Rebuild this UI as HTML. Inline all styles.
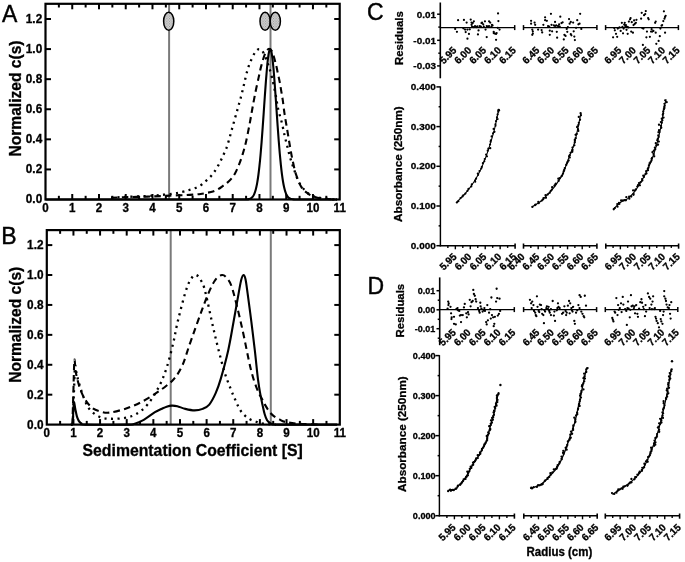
<!DOCTYPE html>
<html><head><meta charset="utf-8"><style>
html,body{margin:0;padding:0;background:#fff;width:685px;height:562px;overflow:hidden}
svg{display:block;will-change:transform}
text{font-family:"Liberation Sans",sans-serif}
</style></head><body>
<svg width="685" height="562" viewBox="0 0 685 562" font-family="Liberation Sans, sans-serif"><defs><pattern id="dots" width="2.6" height="2.6" patternUnits="userSpaceOnUse"><rect width="2.6" height="2.6" fill="#d6d6d6"/><rect x="0" y="0" width="1.0" height="1.0" fill="#8e8e8e"/><rect x="1.3" y="1.3" width="1.0" height="1.0" fill="#8e8e8e"/></pattern></defs>
<rect width="685" height="562" fill="#fff"/>
<line x1="169.1" y1="3.8" x2="169.1" y2="199.5" stroke="#7a7a7a" stroke-width="2"/>
<line x1="270.5" y1="3.8" x2="270.5" y2="199.5" stroke="#7a7a7a" stroke-width="2"/>
<path d="M45.5 199.5C76.7 199.5 200.62 199.5 232.72 199.5C264.81 199.5 237 199.5 238.07 199.5C239.14 199.5 238.78 199.5 239.14 199.5C239.49 199.5 239.85 199.5 240.21 199.5C240.56 199.5 240.92 199.5 241.28 199.5C241.63 199.5 241.99 199.5 242.35 199.49C242.7 199.49 243.06 199.49 243.42 199.49C243.77 199.48 244.13 199.48 244.49 199.47C244.84 199.47 245.2 199.46 245.56 199.44C245.91 199.43 246.27 199.42 246.63 199.39C246.98 199.37 247.34 199.34 247.7 199.29C248.05 199.25 248.41 199.2 248.77 199.12C249.12 199.04 249.48 198.95 249.84 198.82C250.19 198.68 250.55 198.53 250.91 198.31C251.26 198.09 251.62 197.85 251.97 197.5C252.33 197.15 252.69 196.76 253.04 196.23C253.4 195.7 253.76 195.1 254.11 194.31C254.47 193.52 254.83 192.63 255.18 191.5C255.54 190.37 255.9 189.1 256.25 187.53C256.61 185.97 256.97 184.21 257.32 182.12C257.68 180.03 258.04 177.69 258.39 175C258.75 172.31 259.11 169.32 259.46 165.98C259.82 162.64 260.18 158.96 260.53 154.97C260.89 150.99 261.25 146.64 261.6 142.09C261.96 137.53 262.32 132.63 262.67 127.64C263.03 122.66 263.39 117.38 263.74 112.2C264.1 107.01 264.46 101.63 264.81 96.54C265.17 91.44 265.53 86.3 265.88 81.63C266.24 76.95 266.6 72.41 266.95 68.51C267.31 64.6 267.67 61.02 268.02 58.19C268.38 55.36 268.74 53.05 269.09 51.53C269.45 50.01 269.81 49.16 270.16 49.09C270.52 49.02 270.88 49.71 271.23 51.09C271.59 52.46 271.94 54.64 272.3 57.35C272.66 60.06 273.01 63.52 273.37 67.33C273.73 71.14 274.08 75.61 274.44 80.22C274.8 84.83 275.15 89.93 275.51 95C275.87 100.06 276.22 105.44 276.58 110.63C276.94 115.82 277.29 121.12 277.65 126.13C278.01 131.15 278.36 136.1 278.72 140.71C279.08 145.31 279.43 149.72 279.79 153.77C280.15 157.81 280.5 161.56 280.86 164.97C281.22 168.37 281.57 171.43 281.93 174.19C282.29 176.94 282.64 179.34 283 181.49C283.36 183.64 283.71 185.45 284.07 187.06C284.43 188.67 284.78 189.99 285.14 191.16C285.5 192.33 285.85 193.25 286.21 194.07C286.57 194.89 286.92 195.52 287.28 196.07C287.64 196.63 287.99 197.03 288.35 197.4C288.71 197.76 289.06 198.02 289.42 198.25C289.78 198.48 290.13 198.64 290.49 198.78C290.84 198.92 291.2 199.01 291.56 199.09C291.91 199.18 292.27 199.23 292.63 199.28C292.98 199.33 293.34 199.36 293.7 199.38C294.05 199.41 294.41 199.43 294.77 199.44C295.12 199.45 295.48 199.46 295.84 199.47C296.19 199.48 296.55 199.48 296.91 199.49C297.26 199.49 297.62 199.49 297.98 199.49C298.33 199.5 298.69 199.5 299.05 199.5C299.4 199.5 299.76 199.5 300.12 199.5C300.47 199.5 299.94 199.5 301.19 199.5C302.43 199.5 301.63 199.5 307.61 199.5C313.58 199.5 332.12 199.5 337.03 199.5" fill="none" stroke="#000" stroke-width="2.1" stroke-linecap="butt" stroke-linejoin="round"/>
<path d="M111.03 197.69C113.92 197.59 122.35 197.27 128.41 197.09C134.47 196.92 141.69 196.82 147.4 196.64C153.11 196.47 158.23 196.24 162.65 196.04C167.06 195.84 170.09 195.59 173.88 195.44C177.67 195.29 181.95 195.29 185.38 195.14C188.81 194.99 191.93 194.74 194.47 194.54C197.01 194.34 198.57 194.21 200.62 193.93C202.67 193.66 204.72 193.28 206.78 192.88C208.83 192.48 211.05 192.13 212.93 191.53C214.8 190.93 216.31 190.22 218.01 189.27C219.7 188.32 221.53 186.92 223.09 185.81C224.65 184.71 225.9 183.96 227.37 182.65C228.84 181.35 230.58 179.65 231.92 177.99C233.25 176.34 234.14 175.11 235.39 172.73C236.64 170.34 238.2 166.76 239.4 163.7C240.61 160.64 241.54 157.88 242.61 154.38C243.68 150.87 244.71 147.43 245.82 142.64C246.94 137.85 248.28 130.96 249.3 125.65C250.33 120.33 251.04 115.89 251.97 110.75C252.91 105.61 253.8 100.38 254.92 94.81C256.03 89.24 257.59 82.23 258.66 77.36C259.73 72.5 260.31 69.46 261.34 65.63C262.36 61.79 263.65 57.11 264.81 54.35C265.97 51.59 267.18 49.71 268.29 49.08C269.4 48.46 270.61 49.41 271.5 50.59C272.39 51.77 272.88 53.77 273.64 56.15C274.4 58.53 275.33 61.97 276.05 64.88C276.76 67.79 277.29 70.69 277.92 73.6C278.54 76.51 279.26 79.52 279.79 82.33C280.33 85.13 280.64 87.51 281.13 90.45C281.62 93.38 282.15 95.96 282.73 99.92C283.31 103.89 283.85 109.17 284.6 114.21C285.36 119.25 286.39 124.82 287.28 130.16C288.17 135.5 289.06 141.19 289.95 146.25C290.84 151.32 291.6 155.8 292.63 160.54C293.65 165.28 294.63 170.24 296.1 174.68C297.58 179.12 299.54 184.06 301.45 187.17C303.37 190.27 305.38 191.7 307.61 193.33C309.83 194.96 312.15 196.07 314.83 196.94C317.5 197.82 319.95 198.17 323.65 198.6C327.35 199.02 334.8 199.35 337.03 199.5" fill="none" stroke="#000" stroke-width="2.1" stroke-linecap="butt" stroke-linejoin="round" stroke-dasharray="6.5 4.3"/>
<path d="M111.03 197.69C113.48 197.57 120.16 197.19 125.74 196.94C131.31 196.69 138.66 196.52 144.46 196.19C150.25 195.86 155.6 195.44 160.51 194.99C165.41 194.54 170.27 193.98 173.88 193.48C177.49 192.98 179.76 192.51 182.17 191.98C184.58 191.45 186.27 190.93 188.32 190.32C190.37 189.72 192.42 189.2 194.47 188.37C196.52 187.54 198.75 186.56 200.62 185.36C202.5 184.16 204.06 182.6 205.71 181.15C207.35 179.7 209.05 178.24 210.52 176.64C211.99 175.03 213.28 173.33 214.53 171.52C215.78 169.72 216.89 167.79 218.01 165.81C219.12 163.83 220.19 161.72 221.22 159.64C222.24 157.56 223.13 155.7 224.16 153.32C225.18 150.94 225.99 149.69 227.37 145.35C228.75 141.01 230.76 133.32 232.45 127.3C234.14 121.28 236.06 114.51 237.53 109.25C239 103.99 240.16 100 241.28 95.71C242.39 91.43 243.24 87.62 244.22 83.53C245.2 79.44 246.14 74.8 247.16 71.19C248.19 67.58 249.08 64.95 250.37 61.87C251.66 58.79 253.45 54.82 254.92 52.69C256.39 50.56 257.77 49.06 259.2 49.08C260.62 49.11 262 50.34 263.48 52.84C264.95 55.35 266.6 59.99 268.02 64.12C269.45 68.26 270.79 72.65 272.03 77.66C273.28 82.68 274.49 88.94 275.51 94.21C276.54 99.47 277.12 104.44 278.19 109.25C279.26 114.06 280.86 118.7 281.93 123.09C283 127.48 283.71 131.71 284.6 135.57C285.5 139.43 286.39 142.69 287.28 146.25C288.17 149.81 288.93 153.37 289.95 156.93C290.98 160.49 291.96 163.45 293.43 167.61C294.9 171.77 296.68 177.92 298.78 181.9C300.87 185.89 303.64 189.17 306 191.53C308.36 193.88 310.59 194.99 312.95 196.04C315.32 197.09 317.5 197.34 320.18 197.85C322.85 198.35 326.19 198.77 329 199.05C331.81 199.32 335.69 199.42 337.03 199.5" fill="none" stroke="#000" stroke-width="2.3" stroke-linecap="butt" stroke-linejoin="round" stroke-dasharray="2.1 4.4"/>
<ellipse cx="168.7" cy="21.3" rx="5.1" ry="9.0" fill="url(#dots)" stroke="#000" stroke-width="1.5"/>
<ellipse cx="265.1" cy="21.2" rx="5.1" ry="9.0" fill="url(#dots)" stroke="#000" stroke-width="1.5"/>
<ellipse cx="275.3" cy="21.2" rx="5.1" ry="9.0" fill="url(#dots)" stroke="#000" stroke-width="1.5"/>
<rect x="45.5" y="3.8" width="294.2" height="195.7" fill="none" stroke="#000" stroke-width="2.2"/>
<line x1="58.87" y1="199.5" x2="58.87" y2="195.8" stroke="#000" stroke-width="2"/>
<line x1="58.87" y1="3.8" x2="58.87" y2="7.5" stroke="#000" stroke-width="2"/>
<line x1="72.25" y1="199.5" x2="72.25" y2="194" stroke="#000" stroke-width="2"/>
<line x1="72.25" y1="3.8" x2="72.25" y2="9.3" stroke="#000" stroke-width="2"/>
<line x1="85.62" y1="199.5" x2="85.62" y2="195.8" stroke="#000" stroke-width="2"/>
<line x1="85.62" y1="3.8" x2="85.62" y2="7.5" stroke="#000" stroke-width="2"/>
<line x1="98.99" y1="199.5" x2="98.99" y2="194" stroke="#000" stroke-width="2"/>
<line x1="98.99" y1="3.8" x2="98.99" y2="9.3" stroke="#000" stroke-width="2"/>
<line x1="112.36" y1="199.5" x2="112.36" y2="195.8" stroke="#000" stroke-width="2"/>
<line x1="112.36" y1="3.8" x2="112.36" y2="7.5" stroke="#000" stroke-width="2"/>
<line x1="125.74" y1="199.5" x2="125.74" y2="194" stroke="#000" stroke-width="2"/>
<line x1="125.74" y1="3.8" x2="125.74" y2="9.3" stroke="#000" stroke-width="2"/>
<line x1="139.11" y1="199.5" x2="139.11" y2="195.8" stroke="#000" stroke-width="2"/>
<line x1="139.11" y1="3.8" x2="139.11" y2="7.5" stroke="#000" stroke-width="2"/>
<line x1="152.48" y1="199.5" x2="152.48" y2="194" stroke="#000" stroke-width="2"/>
<line x1="152.48" y1="3.8" x2="152.48" y2="9.3" stroke="#000" stroke-width="2"/>
<line x1="165.85" y1="199.5" x2="165.85" y2="195.8" stroke="#000" stroke-width="2"/>
<line x1="165.85" y1="3.8" x2="165.85" y2="7.5" stroke="#000" stroke-width="2"/>
<line x1="179.23" y1="199.5" x2="179.23" y2="194" stroke="#000" stroke-width="2"/>
<line x1="179.23" y1="3.8" x2="179.23" y2="9.3" stroke="#000" stroke-width="2"/>
<line x1="192.6" y1="199.5" x2="192.6" y2="195.8" stroke="#000" stroke-width="2"/>
<line x1="192.6" y1="3.8" x2="192.6" y2="7.5" stroke="#000" stroke-width="2"/>
<line x1="205.97" y1="199.5" x2="205.97" y2="194" stroke="#000" stroke-width="2"/>
<line x1="205.97" y1="3.8" x2="205.97" y2="9.3" stroke="#000" stroke-width="2"/>
<line x1="219.35" y1="199.5" x2="219.35" y2="195.8" stroke="#000" stroke-width="2"/>
<line x1="219.35" y1="3.8" x2="219.35" y2="7.5" stroke="#000" stroke-width="2"/>
<line x1="232.72" y1="199.5" x2="232.72" y2="194" stroke="#000" stroke-width="2"/>
<line x1="232.72" y1="3.8" x2="232.72" y2="9.3" stroke="#000" stroke-width="2"/>
<line x1="246.09" y1="199.5" x2="246.09" y2="195.8" stroke="#000" stroke-width="2"/>
<line x1="246.09" y1="3.8" x2="246.09" y2="7.5" stroke="#000" stroke-width="2"/>
<line x1="259.46" y1="199.5" x2="259.46" y2="194" stroke="#000" stroke-width="2"/>
<line x1="259.46" y1="3.8" x2="259.46" y2="9.3" stroke="#000" stroke-width="2"/>
<line x1="272.84" y1="199.5" x2="272.84" y2="195.8" stroke="#000" stroke-width="2"/>
<line x1="272.84" y1="3.8" x2="272.84" y2="7.5" stroke="#000" stroke-width="2"/>
<line x1="286.21" y1="199.5" x2="286.21" y2="194" stroke="#000" stroke-width="2"/>
<line x1="286.21" y1="3.8" x2="286.21" y2="9.3" stroke="#000" stroke-width="2"/>
<line x1="299.58" y1="199.5" x2="299.58" y2="195.8" stroke="#000" stroke-width="2"/>
<line x1="299.58" y1="3.8" x2="299.58" y2="7.5" stroke="#000" stroke-width="2"/>
<line x1="312.95" y1="199.5" x2="312.95" y2="194" stroke="#000" stroke-width="2"/>
<line x1="312.95" y1="3.8" x2="312.95" y2="9.3" stroke="#000" stroke-width="2"/>
<line x1="326.33" y1="199.5" x2="326.33" y2="195.8" stroke="#000" stroke-width="2"/>
<line x1="326.33" y1="3.8" x2="326.33" y2="7.5" stroke="#000" stroke-width="2"/>
<text font-size="11.6" font-weight="bold" text-anchor="middle" transform="translate(45.5 212.2) scale(1 1.04)" stroke="#000" stroke-width="0.3">0</text>
<text font-size="11.6" font-weight="bold" text-anchor="middle" transform="translate(72.25 212.2) scale(1 1.04)" stroke="#000" stroke-width="0.3">1</text>
<text font-size="11.6" font-weight="bold" text-anchor="middle" transform="translate(98.99 212.2) scale(1 1.04)" stroke="#000" stroke-width="0.3">2</text>
<text font-size="11.6" font-weight="bold" text-anchor="middle" transform="translate(125.74 212.2) scale(1 1.04)" stroke="#000" stroke-width="0.3">3</text>
<text font-size="11.6" font-weight="bold" text-anchor="middle" transform="translate(152.48 212.2) scale(1 1.04)" stroke="#000" stroke-width="0.3">4</text>
<text font-size="11.6" font-weight="bold" text-anchor="middle" transform="translate(179.23 212.2) scale(1 1.04)" stroke="#000" stroke-width="0.3">5</text>
<text font-size="11.6" font-weight="bold" text-anchor="middle" transform="translate(205.97 212.2) scale(1 1.04)" stroke="#000" stroke-width="0.3">6</text>
<text font-size="11.6" font-weight="bold" text-anchor="middle" transform="translate(232.72 212.2) scale(1 1.04)" stroke="#000" stroke-width="0.3">7</text>
<text font-size="11.6" font-weight="bold" text-anchor="middle" transform="translate(259.46 212.2) scale(1 1.04)" stroke="#000" stroke-width="0.3">8</text>
<text font-size="11.6" font-weight="bold" text-anchor="middle" transform="translate(286.21 212.2) scale(1 1.04)" stroke="#000" stroke-width="0.3">9</text>
<text font-size="11.6" font-weight="bold" text-anchor="middle" transform="translate(312.95 212.2) scale(1 1.04)" stroke="#000" stroke-width="0.3">10</text>
<text font-size="11.6" font-weight="bold" text-anchor="middle" transform="translate(339.7 212.2) scale(1 1.04)" stroke="#000" stroke-width="0.3">11</text>
<text font-size="11.8" font-weight="bold" text-anchor="end" transform="translate(42.2 203.4) scale(1 1.04)" stroke="#000" stroke-width="0.3">0.0</text>
<line x1="45.5" y1="169.42" x2="51" y2="169.42" stroke="#000" stroke-width="2"/>
<line x1="339.7" y1="169.42" x2="334.2" y2="169.42" stroke="#000" stroke-width="2"/>
<text font-size="11.8" font-weight="bold" text-anchor="end" transform="translate(42.2 173.32) scale(1 1.04)" stroke="#000" stroke-width="0.3">0.2</text>
<line x1="45.5" y1="139.33" x2="51" y2="139.33" stroke="#000" stroke-width="2"/>
<line x1="339.7" y1="139.33" x2="334.2" y2="139.33" stroke="#000" stroke-width="2"/>
<text font-size="11.8" font-weight="bold" text-anchor="end" transform="translate(42.2 143.23) scale(1 1.04)" stroke="#000" stroke-width="0.3">0.4</text>
<line x1="45.5" y1="109.25" x2="51" y2="109.25" stroke="#000" stroke-width="2"/>
<line x1="339.7" y1="109.25" x2="334.2" y2="109.25" stroke="#000" stroke-width="2"/>
<text font-size="11.8" font-weight="bold" text-anchor="end" transform="translate(42.2 113.15) scale(1 1.04)" stroke="#000" stroke-width="0.3">0.6</text>
<line x1="45.5" y1="79.17" x2="51" y2="79.17" stroke="#000" stroke-width="2"/>
<line x1="339.7" y1="79.17" x2="334.2" y2="79.17" stroke="#000" stroke-width="2"/>
<text font-size="11.8" font-weight="bold" text-anchor="end" transform="translate(42.2 83.07) scale(1 1.04)" stroke="#000" stroke-width="0.3">0.8</text>
<line x1="45.5" y1="49.08" x2="51" y2="49.08" stroke="#000" stroke-width="2"/>
<line x1="339.7" y1="49.08" x2="334.2" y2="49.08" stroke="#000" stroke-width="2"/>
<text font-size="11.8" font-weight="bold" text-anchor="end" transform="translate(42.2 52.98) scale(1 1.04)" stroke="#000" stroke-width="0.3">1.0</text>
<line x1="45.5" y1="19" x2="51" y2="19" stroke="#000" stroke-width="2"/>
<line x1="339.7" y1="19" x2="334.2" y2="19" stroke="#000" stroke-width="2"/>
<text font-size="11.8" font-weight="bold" text-anchor="end" transform="translate(42.2 22.9) scale(1 1.04)" stroke="#000" stroke-width="0.3">1.2</text>
<text font-size="15.6" font-weight="bold" text-anchor="middle" transform="translate(21 98.5) rotate(-90) scale(1 1.04)" stroke="#000" stroke-width="0.3">Normalized c(s)</text>
<text font-size="23" font-weight="normal" text-anchor="start" transform="translate(2 21.8) scale(1 1.04)" stroke="#000" stroke-width="0.4">A</text>
<line x1="170.7" y1="230.1" x2="170.7" y2="424.6" stroke="#7a7a7a" stroke-width="2"/>
<line x1="270.8" y1="230.1" x2="270.8" y2="424.6" stroke="#7a7a7a" stroke-width="2"/>
<path d="M70.77 424.6C71.08 424.48 72.22 426.1 72.64 423.85C73.06 421.61 73.08 414.75 73.3 411.14C73.53 407.52 73.64 402.54 73.97 402.16C74.3 401.79 74.81 406.53 75.3 408.89C75.79 411.26 76.32 414.38 76.9 416.37C77.48 418.37 78.01 419.69 78.76 420.86C79.52 422.03 80.32 422.78 81.43 423.4C82.54 424.03 77.88 424.4 85.42 424.6C92.97 424.8 118.5 424.75 126.71 424.6C134.92 424.45 131.86 424.5 134.7 423.7C137.54 422.9 140.38 421.73 143.76 419.81C147.13 417.89 152.01 413.98 154.94 412.18C157.87 410.39 159.38 409.97 161.34 409.04C163.29 408.12 164.89 407.22 166.66 406.65C168.44 406.08 170.22 405.68 171.99 405.6C173.77 405.53 175.1 405.65 177.32 406.2C179.54 406.75 182.42 408.2 185.31 408.89C188.19 409.59 191.75 410.39 194.63 410.39C197.52 410.39 200.18 409.87 202.62 408.89C205.06 407.92 207.11 407.17 209.28 404.56C211.46 401.94 213.77 397.48 215.67 393.19C217.58 388.9 218.65 385.96 220.74 378.83C222.82 371.7 226.06 359.88 228.19 350.41C230.32 340.93 231.79 331.46 233.52 321.99C235.25 312.51 237.29 300.6 238.58 293.56C239.87 286.53 240.42 282.89 241.25 279.8C242.07 276.71 242.8 275.12 243.51 275.02C244.22 274.92 244.82 276.11 245.51 279.2C246.2 282.3 246.66 286.43 247.64 293.56C248.61 300.7 250.17 312.51 251.37 321.99C252.57 331.46 253.72 340.78 254.83 350.41C255.94 360.03 257.09 372.35 258.03 379.73C258.96 387.1 259.67 390.45 260.42 394.68C261.18 398.92 261.84 401.89 262.55 405.15C263.26 408.42 263.93 411.76 264.69 414.28C265.44 416.8 266.24 418.84 267.08 420.26C267.93 421.68 268.73 422.16 269.75 422.81C270.77 423.45 271.74 423.85 273.21 424.15C274.67 424.45 267.88 424.53 278.54 424.6C289.19 424.67 327.37 424.6 337.14 424.6" fill="none" stroke="#000" stroke-width="2.1" stroke-linecap="butt" stroke-linejoin="round"/>
<path d="M72.37 424.6C72.53 419.61 72.97 405.4 73.3 394.68C73.64 383.96 73.99 364.27 74.37 360.28C74.75 356.29 75.06 367.51 75.57 370.75C76.08 373.99 76.54 376.36 77.43 379.73C78.32 383.09 79.56 387.58 80.89 390.94C82.23 394.31 83.56 397.1 85.42 399.92C87.29 402.74 89.64 405.93 92.08 407.85C94.52 409.77 97.19 410.64 100.07 411.44C102.96 412.23 105.27 413.06 109.4 412.63C113.52 412.21 119.74 410.54 124.84 408.89C129.95 407.25 135.01 405.25 140.03 402.76C145.04 400.27 150.55 396.78 154.94 393.94C159.34 391.09 163.11 388.33 166.4 385.71C169.68 383.09 171.95 381.72 174.65 378.23C177.36 374.74 180.03 370.75 182.65 364.77C185.26 358.78 186.55 353.05 190.37 342.33C194.19 331.61 201.51 310.67 205.55 300.45C209.59 290.22 211.86 285.24 214.61 281C217.36 276.76 219.85 275.27 222.07 275.02C224.29 274.77 226.15 277.01 227.93 279.5C229.7 282 230.41 282.12 232.72 289.98C235.03 297.83 238.76 313.41 241.78 326.62C244.8 339.84 248.26 358.78 250.83 369.25C253.41 379.73 255.36 384.49 257.23 389.45C259.09 394.41 260.69 396.4 262.02 399.02C263.35 401.64 264.02 403.08 265.22 405.15C266.42 407.22 267.88 409.69 269.21 411.44C270.55 413.18 271.52 414.3 273.21 415.62C274.9 416.95 277.34 418.32 279.34 419.36C281.33 420.41 282 421.18 285.2 421.91C288.39 422.63 292.96 423.25 298.51 423.7C304.06 424.15 315.16 424.45 318.49 424.6" fill="none" stroke="#000" stroke-width="2.1" stroke-linecap="butt" stroke-linejoin="round" stroke-dasharray="6.5 4.3"/>
<path d="M72.64 424.6C72.84 419.61 73.44 404.41 73.84 394.68C74.24 384.96 74.57 369.75 75.03 366.26C75.5 362.77 75.92 370.75 76.63 373.74C77.34 376.73 77.92 379.73 79.3 384.21C80.67 388.7 83.03 396.33 84.89 400.67C86.75 405 87.95 407.5 90.48 410.24C93.01 412.98 96.57 415.7 100.07 417.12C103.58 418.54 107.4 418.64 111.53 418.77C115.66 418.89 120.76 418.64 124.84 417.87C128.93 417.1 132.26 416.35 136.03 414.13C139.81 411.91 143.71 409.04 147.49 404.56C151.26 400.07 155.52 393.21 158.67 387.2C161.82 381.2 164 375.74 166.4 368.51C168.79 361.28 171.1 351.93 173.06 343.82C175.01 335.72 175.76 329.37 178.12 319.89C180.47 310.42 184.38 294.46 187.17 286.98C189.97 279.5 192.55 276.01 194.9 275.02C197.25 274.02 199.52 278.01 201.29 281C203.07 283.99 203.38 284.37 205.55 292.97C207.73 301.57 211.32 319.89 214.34 332.61C217.36 345.32 220.96 359.91 223.67 369.25C226.37 378.6 228.59 383.46 230.59 388.7C232.59 393.94 234.1 397.18 235.65 400.67C237.21 404.16 238.45 407.22 239.91 409.64C241.38 412.06 242.71 413.53 244.44 415.18C246.17 416.82 248.35 418.42 250.3 419.51C252.26 420.61 254.47 421.16 256.16 421.76C257.85 422.36 258.47 422.71 260.42 423.1C262.38 423.5 265.31 423.9 267.88 424.15C270.46 424.4 274.54 424.53 275.87 424.6" fill="none" stroke="#000" stroke-width="2.3" stroke-linecap="butt" stroke-linejoin="round" stroke-dasharray="2.1 4.4"/>
<rect x="46.8" y="230.1" width="293" height="194.5" fill="none" stroke="#000" stroke-width="2.2"/>
<line x1="60.12" y1="424.6" x2="60.12" y2="420.9" stroke="#000" stroke-width="2"/>
<line x1="60.12" y1="230.1" x2="60.12" y2="233.8" stroke="#000" stroke-width="2"/>
<line x1="73.44" y1="424.6" x2="73.44" y2="419.1" stroke="#000" stroke-width="2"/>
<line x1="73.44" y1="230.1" x2="73.44" y2="235.6" stroke="#000" stroke-width="2"/>
<line x1="86.75" y1="424.6" x2="86.75" y2="420.9" stroke="#000" stroke-width="2"/>
<line x1="86.75" y1="230.1" x2="86.75" y2="233.8" stroke="#000" stroke-width="2"/>
<line x1="100.07" y1="424.6" x2="100.07" y2="419.1" stroke="#000" stroke-width="2"/>
<line x1="100.07" y1="230.1" x2="100.07" y2="235.6" stroke="#000" stroke-width="2"/>
<line x1="113.39" y1="424.6" x2="113.39" y2="420.9" stroke="#000" stroke-width="2"/>
<line x1="113.39" y1="230.1" x2="113.39" y2="233.8" stroke="#000" stroke-width="2"/>
<line x1="126.71" y1="424.6" x2="126.71" y2="419.1" stroke="#000" stroke-width="2"/>
<line x1="126.71" y1="230.1" x2="126.71" y2="235.6" stroke="#000" stroke-width="2"/>
<line x1="140.03" y1="424.6" x2="140.03" y2="420.9" stroke="#000" stroke-width="2"/>
<line x1="140.03" y1="230.1" x2="140.03" y2="233.8" stroke="#000" stroke-width="2"/>
<line x1="153.35" y1="424.6" x2="153.35" y2="419.1" stroke="#000" stroke-width="2"/>
<line x1="153.35" y1="230.1" x2="153.35" y2="235.6" stroke="#000" stroke-width="2"/>
<line x1="166.66" y1="424.6" x2="166.66" y2="420.9" stroke="#000" stroke-width="2"/>
<line x1="166.66" y1="230.1" x2="166.66" y2="233.8" stroke="#000" stroke-width="2"/>
<line x1="179.98" y1="424.6" x2="179.98" y2="419.1" stroke="#000" stroke-width="2"/>
<line x1="179.98" y1="230.1" x2="179.98" y2="235.6" stroke="#000" stroke-width="2"/>
<line x1="193.3" y1="424.6" x2="193.3" y2="420.9" stroke="#000" stroke-width="2"/>
<line x1="193.3" y1="230.1" x2="193.3" y2="233.8" stroke="#000" stroke-width="2"/>
<line x1="206.62" y1="424.6" x2="206.62" y2="419.1" stroke="#000" stroke-width="2"/>
<line x1="206.62" y1="230.1" x2="206.62" y2="235.6" stroke="#000" stroke-width="2"/>
<line x1="219.94" y1="424.6" x2="219.94" y2="420.9" stroke="#000" stroke-width="2"/>
<line x1="219.94" y1="230.1" x2="219.94" y2="233.8" stroke="#000" stroke-width="2"/>
<line x1="233.25" y1="424.6" x2="233.25" y2="419.1" stroke="#000" stroke-width="2"/>
<line x1="233.25" y1="230.1" x2="233.25" y2="235.6" stroke="#000" stroke-width="2"/>
<line x1="246.57" y1="424.6" x2="246.57" y2="420.9" stroke="#000" stroke-width="2"/>
<line x1="246.57" y1="230.1" x2="246.57" y2="233.8" stroke="#000" stroke-width="2"/>
<line x1="259.89" y1="424.6" x2="259.89" y2="419.1" stroke="#000" stroke-width="2"/>
<line x1="259.89" y1="230.1" x2="259.89" y2="235.6" stroke="#000" stroke-width="2"/>
<line x1="273.21" y1="424.6" x2="273.21" y2="420.9" stroke="#000" stroke-width="2"/>
<line x1="273.21" y1="230.1" x2="273.21" y2="233.8" stroke="#000" stroke-width="2"/>
<line x1="286.53" y1="424.6" x2="286.53" y2="419.1" stroke="#000" stroke-width="2"/>
<line x1="286.53" y1="230.1" x2="286.53" y2="235.6" stroke="#000" stroke-width="2"/>
<line x1="299.85" y1="424.6" x2="299.85" y2="420.9" stroke="#000" stroke-width="2"/>
<line x1="299.85" y1="230.1" x2="299.85" y2="233.8" stroke="#000" stroke-width="2"/>
<line x1="313.16" y1="424.6" x2="313.16" y2="419.1" stroke="#000" stroke-width="2"/>
<line x1="313.16" y1="230.1" x2="313.16" y2="235.6" stroke="#000" stroke-width="2"/>
<line x1="326.48" y1="424.6" x2="326.48" y2="420.9" stroke="#000" stroke-width="2"/>
<line x1="326.48" y1="230.1" x2="326.48" y2="233.8" stroke="#000" stroke-width="2"/>
<text font-size="11.6" font-weight="bold" text-anchor="middle" transform="translate(46.8 437.3) scale(1 1.04)" stroke="#000" stroke-width="0.3">0</text>
<text font-size="11.6" font-weight="bold" text-anchor="middle" transform="translate(73.44 437.3) scale(1 1.04)" stroke="#000" stroke-width="0.3">1</text>
<text font-size="11.6" font-weight="bold" text-anchor="middle" transform="translate(100.07 437.3) scale(1 1.04)" stroke="#000" stroke-width="0.3">2</text>
<text font-size="11.6" font-weight="bold" text-anchor="middle" transform="translate(126.71 437.3) scale(1 1.04)" stroke="#000" stroke-width="0.3">3</text>
<text font-size="11.6" font-weight="bold" text-anchor="middle" transform="translate(153.35 437.3) scale(1 1.04)" stroke="#000" stroke-width="0.3">4</text>
<text font-size="11.6" font-weight="bold" text-anchor="middle" transform="translate(179.98 437.3) scale(1 1.04)" stroke="#000" stroke-width="0.3">5</text>
<text font-size="11.6" font-weight="bold" text-anchor="middle" transform="translate(206.62 437.3) scale(1 1.04)" stroke="#000" stroke-width="0.3">6</text>
<text font-size="11.6" font-weight="bold" text-anchor="middle" transform="translate(233.25 437.3) scale(1 1.04)" stroke="#000" stroke-width="0.3">7</text>
<text font-size="11.6" font-weight="bold" text-anchor="middle" transform="translate(259.89 437.3) scale(1 1.04)" stroke="#000" stroke-width="0.3">8</text>
<text font-size="11.6" font-weight="bold" text-anchor="middle" transform="translate(286.53 437.3) scale(1 1.04)" stroke="#000" stroke-width="0.3">9</text>
<text font-size="11.6" font-weight="bold" text-anchor="middle" transform="translate(313.16 437.3) scale(1 1.04)" stroke="#000" stroke-width="0.3">10</text>
<text font-size="11.6" font-weight="bold" text-anchor="middle" transform="translate(339.8 437.3) scale(1 1.04)" stroke="#000" stroke-width="0.3">11</text>
<text font-size="11.8" font-weight="bold" text-anchor="end" transform="translate(43.5 428.5) scale(1 1.04)" stroke="#000" stroke-width="0.3">0.0</text>
<line x1="46.8" y1="394.68" x2="52.3" y2="394.68" stroke="#000" stroke-width="2"/>
<line x1="339.8" y1="394.68" x2="334.3" y2="394.68" stroke="#000" stroke-width="2"/>
<text font-size="11.8" font-weight="bold" text-anchor="end" transform="translate(43.5 398.58) scale(1 1.04)" stroke="#000" stroke-width="0.3">0.2</text>
<line x1="46.8" y1="364.77" x2="52.3" y2="364.77" stroke="#000" stroke-width="2"/>
<line x1="339.8" y1="364.77" x2="334.3" y2="364.77" stroke="#000" stroke-width="2"/>
<text font-size="11.8" font-weight="bold" text-anchor="end" transform="translate(43.5 368.67) scale(1 1.04)" stroke="#000" stroke-width="0.3">0.4</text>
<line x1="46.8" y1="334.85" x2="52.3" y2="334.85" stroke="#000" stroke-width="2"/>
<line x1="339.8" y1="334.85" x2="334.3" y2="334.85" stroke="#000" stroke-width="2"/>
<text font-size="11.8" font-weight="bold" text-anchor="end" transform="translate(43.5 338.75) scale(1 1.04)" stroke="#000" stroke-width="0.3">0.6</text>
<line x1="46.8" y1="304.93" x2="52.3" y2="304.93" stroke="#000" stroke-width="2"/>
<line x1="339.8" y1="304.93" x2="334.3" y2="304.93" stroke="#000" stroke-width="2"/>
<text font-size="11.8" font-weight="bold" text-anchor="end" transform="translate(43.5 308.83) scale(1 1.04)" stroke="#000" stroke-width="0.3">0.8</text>
<line x1="46.8" y1="275.02" x2="52.3" y2="275.02" stroke="#000" stroke-width="2"/>
<line x1="339.8" y1="275.02" x2="334.3" y2="275.02" stroke="#000" stroke-width="2"/>
<text font-size="11.8" font-weight="bold" text-anchor="end" transform="translate(43.5 278.92) scale(1 1.04)" stroke="#000" stroke-width="0.3">1.0</text>
<line x1="46.8" y1="245.1" x2="52.3" y2="245.1" stroke="#000" stroke-width="2"/>
<line x1="339.8" y1="245.1" x2="334.3" y2="245.1" stroke="#000" stroke-width="2"/>
<text font-size="11.8" font-weight="bold" text-anchor="end" transform="translate(43.5 249) scale(1 1.04)" stroke="#000" stroke-width="0.3">1.2</text>
<text font-size="15.6" font-weight="bold" text-anchor="middle" transform="translate(21 324.8) rotate(-90) scale(1 1.04)" stroke="#000" stroke-width="0.3">Normalized c(s)</text>
<text font-size="23" font-weight="normal" text-anchor="start" transform="translate(1.2 243.6) scale(1 1.04)" stroke="#000" stroke-width="0.4">B</text>
<text font-size="23" font-weight="normal" text-anchor="start" transform="translate(367 19.6) scale(1 1.04)" stroke="#000" stroke-width="0.4">C</text>
<text font-size="11.4" font-weight="bold" text-anchor="middle" transform="translate(402.6 38.1) rotate(-90) scale(1 0.9)" stroke="#000" stroke-width="0.3">Residuals</text>
<text font-size="11.7" font-weight="bold" text-anchor="middle" transform="translate(402.4 164.1) rotate(-90) scale(1 0.9)" stroke="#000" stroke-width="0.3">Absorbance (250nm)</text>
<line x1="440.3" y1="2.5" x2="440.3" y2="78.3" stroke="#000" stroke-width="1.6"/>
<line x1="437.1" y1="14.2" x2="440.3" y2="14.2" stroke="#000" stroke-width="1.5"/>
<line x1="438.3" y1="27.1" x2="440.3" y2="27.1" stroke="#000" stroke-width="1.5"/>
<line x1="437.1" y1="40.3" x2="440.3" y2="40.3" stroke="#000" stroke-width="1.5"/>
<line x1="438.3" y1="53.2" x2="440.3" y2="53.2" stroke="#000" stroke-width="1.5"/>
<line x1="437.1" y1="65.9" x2="440.3" y2="65.9" stroke="#000" stroke-width="1.5"/>
<text font-size="9.9" font-weight="bold" text-anchor="end" transform="translate(435.9 17.5) scale(1 0.97)" stroke="#000" stroke-width="0.3">0.01</text>
<text font-size="9.9" font-weight="bold" text-anchor="end" transform="translate(435.9 43.6) scale(1 0.97)" stroke="#000" stroke-width="0.3">-0.01</text>
<text font-size="9.9" font-weight="bold" text-anchor="end" transform="translate(435.9 69.2) scale(1 0.97)" stroke="#000" stroke-width="0.3">-0.03</text>
<line x1="440.3" y1="27.5" x2="514.7" y2="27.5" stroke="#000" stroke-width="1.25"/>
<line x1="514.7" y1="25.1" x2="514.7" y2="30.1" stroke="#000" stroke-width="1.5"/>
<line x1="523.5" y1="27.5" x2="596.9" y2="27.5" stroke="#000" stroke-width="1.25"/>
<line x1="523.5" y1="25.1" x2="523.5" y2="30.1" stroke="#000" stroke-width="1.5"/>
<line x1="596.9" y1="25.1" x2="596.9" y2="30.1" stroke="#000" stroke-width="1.5"/>
<line x1="605.6" y1="27.5" x2="678.4" y2="27.5" stroke="#000" stroke-width="1.25"/>
<line x1="605.6" y1="25.1" x2="605.6" y2="30.1" stroke="#000" stroke-width="1.5"/>
<line x1="678.4" y1="25.1" x2="678.4" y2="30.1" stroke="#000" stroke-width="1.5"/>
<text font-size="9.8" font-weight="bold" text-anchor="end" transform="translate(457.1 51) rotate(-45) scale(1 1.04)" stroke="#000" stroke-width="0.3">5.95</text>
<text font-size="9.8" font-weight="bold" text-anchor="end" transform="translate(472 51) rotate(-45) scale(1 1.04)" stroke="#000" stroke-width="0.3">6.00</text>
<text font-size="9.8" font-weight="bold" text-anchor="end" transform="translate(486.9 51) rotate(-45) scale(1 1.04)" stroke="#000" stroke-width="0.3">6.05</text>
<text font-size="9.8" font-weight="bold" text-anchor="end" transform="translate(501.8 51) rotate(-45) scale(1 1.04)" stroke="#000" stroke-width="0.3">6.10</text>
<text font-size="9.8" font-weight="bold" text-anchor="end" transform="translate(516.7 51) rotate(-45) scale(1 1.04)" stroke="#000" stroke-width="0.3">6.15</text>
<text font-size="9.8" font-weight="bold" text-anchor="end" transform="translate(540.08 51) rotate(-45) scale(1 1.04)" stroke="#000" stroke-width="0.3">6.45</text>
<text font-size="9.8" font-weight="bold" text-anchor="end" transform="translate(554.76 51) rotate(-45) scale(1 1.04)" stroke="#000" stroke-width="0.3">6.50</text>
<text font-size="9.8" font-weight="bold" text-anchor="end" transform="translate(569.44 51) rotate(-45) scale(1 1.04)" stroke="#000" stroke-width="0.3">6.55</text>
<text font-size="9.8" font-weight="bold" text-anchor="end" transform="translate(584.12 51) rotate(-45) scale(1 1.04)" stroke="#000" stroke-width="0.3">6.60</text>
<text font-size="9.8" font-weight="bold" text-anchor="end" transform="translate(598.8 51) rotate(-45) scale(1 1.04)" stroke="#000" stroke-width="0.3">6.65</text>
<text font-size="9.8" font-weight="bold" text-anchor="end" transform="translate(622.06 51) rotate(-45) scale(1 1.04)" stroke="#000" stroke-width="0.3">6.95</text>
<text font-size="9.8" font-weight="bold" text-anchor="end" transform="translate(636.62 51) rotate(-45) scale(1 1.04)" stroke="#000" stroke-width="0.3">7.00</text>
<text font-size="9.8" font-weight="bold" text-anchor="end" transform="translate(651.18 51) rotate(-45) scale(1 1.04)" stroke="#000" stroke-width="0.3">7.05</text>
<text font-size="9.8" font-weight="bold" text-anchor="end" transform="translate(665.74 51) rotate(-45) scale(1 1.04)" stroke="#000" stroke-width="0.3">7.10</text>
<text font-size="9.8" font-weight="bold" text-anchor="end" transform="translate(680.3 51) rotate(-45) scale(1 1.04)" stroke="#000" stroke-width="0.3">7.15</text>
<path d="M458.1 20.18h0M463.94 19.95h0M466.63 22.52h0M470.72 19.6h0M471.53 22.52h0M473.87 21.35h0M455.18 28.94h0M456.93 31.86h0M463.36 28.36h0M465.11 29.53h0M465.69 32.09h0M467.45 29.53h0M468.96 33.96h0M467.45 38.64h0M469.78 29.29h0M472.12 26.61h0M473.87 27.19h0M475.04 26.02h0M476.2 27.19h0M477.37 26.26h0M478.54 30.46h0M477.96 34.43h0M479.71 26.02h0M481.46 23.1h0M482.04 22.52h0M484.96 21.35h0M483.21 24.27h0M483.8 26.61h0M485.55 29.53h0M486.72 26.02h0M487.88 26.61h0M489.05 21.35h0M490.22 22.52h0M491.39 26.61h0M492.55 25.44h0M493.72 33.03h0M494.89 33.61h0M496.06 33.96h0M496.64 33.03h0M486.72 37.12h0M496.06 39.8h0M498.04 13.41h0M498.39 21.12h0M497.81 27.77h0M499.56 29.53h0M471.53 24.85h0M472.7 23.1h0M480.88 26.61h0M489.05 26.02h0M491.97 24.85h0M493.72 31.86h0" stroke="#000" stroke-width="2.24" stroke-linecap="round"/>
<path d="M531.09 20.77h0M531.09 23.69h0M534.6 22.52h0M535.18 24.85h0M532.26 29.53h0M532.85 31.28h0M532.85 33.61h0M532.26 34.78h0M538.1 29.53h0M541.61 30.11h0M542.19 32.45h0M543.36 24.85h0M545.11 17.26h0M545.11 20.18h0M546.86 20.77h0M548.03 26.02h0M549.2 26.61h0M549.78 30.69h0M549.78 34.78h0M550.95 13.76h0M551.53 24.85h0M552.12 31.28h0M553.87 25.44h0M555.04 21.93h0M555.04 26.02h0M556.2 25.44h0M556.79 31.86h0M557.14 37.7h0M557.96 26.02h0M559.12 24.27h0M559.71 26.61h0M560.29 16.68h0M561.46 23.1h0M562.63 22.28h0M564.38 34.78h0M563.8 39.45h0M565.55 35.95h0M566.72 28.94h0M567.3 31.86h0M567.88 27.19h0M569.05 19.01h0M569.64 23.69h0M570.8 21.93h0M570.8 34.2h0M571.39 35.36h0M573.14 22.52h0M573.72 31.28h0M574.31 36.53h0M574.89 40.04h0M576.06 27.77h0M577.23 20.18h0M578.39 24.27h0M579.56 23.69h0M580.15 13.76h0M581.31 28.94h0" stroke="#000" stroke-width="2.24" stroke-linecap="round"/>
<path d="M613.09 37.37h0M614.26 28.03h0M614.85 30.36h0M616.01 33.87h0M617.18 36.79h0M617.77 28.61h0M619.52 27.45h0M620.69 30.95h0M621.85 22.77h0M622.44 26.86h0M623.02 33.28h0M623.61 28.61h0M624.19 24.53h0M624.77 22.77h0M625.36 26.28h0M625.94 25.11h0M626.53 29.78h0M627.11 26.86h0M627.69 33.87h0M628.28 27.45h0M628.86 21.61h0M630.03 19.27h0M630.61 18.1h0M631.2 31.53h0M631.78 22.19h0M632.95 32.7h0M633.53 25.11h0M634.12 20.44h0M634.7 23.94h0M635.87 22.77h0M636.45 19.85h0M641.12 18.69h0M641.71 12.85h0M642.29 28.03h0M643.46 28.61h0M642.88 44.96h0M644.04 15.18h0M645.21 14.01h0M645.8 11.09h0M646.38 37.37h0M646.96 31.53h0M648.13 18.1h0M648.72 19.27h0M649.88 36.79h0M651.05 31.53h0M651.64 29.2h0M652.22 31.53h0M653.39 30.95h0M655.14 22.77h0M655.72 21.61h0M655.72 32.7h0M656.31 43.8h0M658.64 40.88h0M659.81 36.2h0M660.39 28.61h0M661.56 25.69h0M662.15 25.11h0M663.31 21.02h0M663.9 11.33h0M664.48 18.69h0M665.07 16.93h0M665.65 15.77h0M665.07 32.7h0" stroke="#000" stroke-width="2.24" stroke-linecap="round"/>
<line x1="440.4" y1="86.4" x2="440.4" y2="246.4" stroke="#000" stroke-width="1.45"/>
<line x1="436.4" y1="245.7" x2="440.4" y2="245.7" stroke="#000" stroke-width="1.5"/>
<line x1="438.6" y1="225.85" x2="440.4" y2="225.85" stroke="#000" stroke-width="1.5"/>
<line x1="436.4" y1="206" x2="440.4" y2="206" stroke="#000" stroke-width="1.5"/>
<line x1="438.6" y1="186.15" x2="440.4" y2="186.15" stroke="#000" stroke-width="1.5"/>
<line x1="436.4" y1="166.3" x2="440.4" y2="166.3" stroke="#000" stroke-width="1.5"/>
<line x1="438.6" y1="146.45" x2="440.4" y2="146.45" stroke="#000" stroke-width="1.5"/>
<line x1="436.4" y1="126.6" x2="440.4" y2="126.6" stroke="#000" stroke-width="1.5"/>
<line x1="438.6" y1="106.75" x2="440.4" y2="106.75" stroke="#000" stroke-width="1.5"/>
<line x1="436.4" y1="86.9" x2="440.4" y2="86.9" stroke="#000" stroke-width="1.5"/>
<text font-size="10" font-weight="bold" text-anchor="end" transform="translate(435.8 248.8) scale(1 0.9)" stroke="#000" stroke-width="0.3">0.000</text>
<text font-size="10" font-weight="bold" text-anchor="end" transform="translate(435.8 209.1) scale(1 0.9)" stroke="#000" stroke-width="0.3">0.100</text>
<text font-size="10" font-weight="bold" text-anchor="end" transform="translate(435.8 169.4) scale(1 0.9)" stroke="#000" stroke-width="0.3">0.200</text>
<text font-size="10" font-weight="bold" text-anchor="end" transform="translate(435.8 129.7) scale(1 0.9)" stroke="#000" stroke-width="0.3">0.300</text>
<text font-size="10" font-weight="bold" text-anchor="end" transform="translate(435.8 90) scale(1 0.9)" stroke="#000" stroke-width="0.3">0.400</text>
<line x1="439.7" y1="245.7" x2="515.1" y2="245.7" stroke="#000" stroke-width="1.45"/>
<line x1="515.1" y1="243.5" x2="515.1" y2="248.7" stroke="#000" stroke-width="1.6"/>
<line x1="447.87" y1="245.7" x2="447.87" y2="247.9" stroke="#000" stroke-width="1.4"/>
<line x1="455.34" y1="245.7" x2="455.34" y2="249.3" stroke="#000" stroke-width="1.4"/>
<line x1="462.81" y1="245.7" x2="462.81" y2="247.9" stroke="#000" stroke-width="1.4"/>
<line x1="470.28" y1="245.7" x2="470.28" y2="249.3" stroke="#000" stroke-width="1.4"/>
<line x1="477.75" y1="245.7" x2="477.75" y2="247.9" stroke="#000" stroke-width="1.4"/>
<line x1="485.22" y1="245.7" x2="485.22" y2="249.3" stroke="#000" stroke-width="1.4"/>
<line x1="492.69" y1="245.7" x2="492.69" y2="247.9" stroke="#000" stroke-width="1.4"/>
<line x1="500.16" y1="245.7" x2="500.16" y2="249.3" stroke="#000" stroke-width="1.4"/>
<line x1="507.63" y1="245.7" x2="507.63" y2="247.9" stroke="#000" stroke-width="1.4"/>
<text font-size="9.8" font-weight="bold" text-anchor="end" transform="translate(457.24 257.3) rotate(-45) scale(1 1.04)" stroke="#000" stroke-width="0.3">5.95</text>
<text font-size="9.8" font-weight="bold" text-anchor="end" transform="translate(472.18 257.3) rotate(-45) scale(1 1.04)" stroke="#000" stroke-width="0.3">6.00</text>
<text font-size="9.8" font-weight="bold" text-anchor="end" transform="translate(487.12 257.3) rotate(-45) scale(1 1.04)" stroke="#000" stroke-width="0.3">6.05</text>
<text font-size="9.8" font-weight="bold" text-anchor="end" transform="translate(502.06 257.3) rotate(-45) scale(1 1.04)" stroke="#000" stroke-width="0.3">6.10</text>
<text font-size="9.8" font-weight="bold" text-anchor="end" transform="translate(517 257.3) rotate(-45) scale(1 1.04)" stroke="#000" stroke-width="0.3">6.15</text>
<line x1="523.5" y1="245.7" x2="596.9" y2="245.7" stroke="#000" stroke-width="1.45"/>
<line x1="523.5" y1="243.5" x2="523.5" y2="248.7" stroke="#000" stroke-width="1.6"/>
<line x1="596.9" y1="243.5" x2="596.9" y2="248.7" stroke="#000" stroke-width="1.6"/>
<line x1="530.84" y1="245.7" x2="530.84" y2="247.9" stroke="#000" stroke-width="1.4"/>
<line x1="538.18" y1="245.7" x2="538.18" y2="249.3" stroke="#000" stroke-width="1.4"/>
<line x1="545.52" y1="245.7" x2="545.52" y2="247.9" stroke="#000" stroke-width="1.4"/>
<line x1="552.86" y1="245.7" x2="552.86" y2="249.3" stroke="#000" stroke-width="1.4"/>
<line x1="560.2" y1="245.7" x2="560.2" y2="247.9" stroke="#000" stroke-width="1.4"/>
<line x1="567.54" y1="245.7" x2="567.54" y2="249.3" stroke="#000" stroke-width="1.4"/>
<line x1="574.88" y1="245.7" x2="574.88" y2="247.9" stroke="#000" stroke-width="1.4"/>
<line x1="582.22" y1="245.7" x2="582.22" y2="249.3" stroke="#000" stroke-width="1.4"/>
<line x1="589.56" y1="245.7" x2="589.56" y2="247.9" stroke="#000" stroke-width="1.4"/>
<text font-size="9.8" font-weight="bold" text-anchor="end" transform="translate(525.4 257.3) rotate(-45) scale(1 1.04)" stroke="#000" stroke-width="0.3">6.40</text>
<text font-size="9.8" font-weight="bold" text-anchor="end" transform="translate(540.08 257.3) rotate(-45) scale(1 1.04)" stroke="#000" stroke-width="0.3">6.45</text>
<text font-size="9.8" font-weight="bold" text-anchor="end" transform="translate(554.76 257.3) rotate(-45) scale(1 1.04)" stroke="#000" stroke-width="0.3">6.50</text>
<text font-size="9.8" font-weight="bold" text-anchor="end" transform="translate(569.44 257.3) rotate(-45) scale(1 1.04)" stroke="#000" stroke-width="0.3">6.55</text>
<text font-size="9.8" font-weight="bold" text-anchor="end" transform="translate(584.12 257.3) rotate(-45) scale(1 1.04)" stroke="#000" stroke-width="0.3">6.60</text>
<text font-size="9.8" font-weight="bold" text-anchor="end" transform="translate(598.8 257.3) rotate(-45) scale(1 1.04)" stroke="#000" stroke-width="0.3">6.65</text>
<line x1="605.8" y1="245.7" x2="678.6" y2="245.7" stroke="#000" stroke-width="1.45"/>
<line x1="605.8" y1="243.5" x2="605.8" y2="248.7" stroke="#000" stroke-width="1.6"/>
<line x1="678.6" y1="243.5" x2="678.6" y2="248.7" stroke="#000" stroke-width="1.6"/>
<line x1="613.08" y1="245.7" x2="613.08" y2="247.9" stroke="#000" stroke-width="1.4"/>
<line x1="620.36" y1="245.7" x2="620.36" y2="249.3" stroke="#000" stroke-width="1.4"/>
<line x1="627.64" y1="245.7" x2="627.64" y2="247.9" stroke="#000" stroke-width="1.4"/>
<line x1="634.92" y1="245.7" x2="634.92" y2="249.3" stroke="#000" stroke-width="1.4"/>
<line x1="642.2" y1="245.7" x2="642.2" y2="247.9" stroke="#000" stroke-width="1.4"/>
<line x1="649.48" y1="245.7" x2="649.48" y2="249.3" stroke="#000" stroke-width="1.4"/>
<line x1="656.76" y1="245.7" x2="656.76" y2="247.9" stroke="#000" stroke-width="1.4"/>
<line x1="664.04" y1="245.7" x2="664.04" y2="249.3" stroke="#000" stroke-width="1.4"/>
<line x1="671.32" y1="245.7" x2="671.32" y2="247.9" stroke="#000" stroke-width="1.4"/>
<text font-size="9.8" font-weight="bold" text-anchor="end" transform="translate(622.26 257.3) rotate(-45) scale(1 1.04)" stroke="#000" stroke-width="0.3">6.95</text>
<text font-size="9.8" font-weight="bold" text-anchor="end" transform="translate(636.82 257.3) rotate(-45) scale(1 1.04)" stroke="#000" stroke-width="0.3">7.00</text>
<text font-size="9.8" font-weight="bold" text-anchor="end" transform="translate(651.38 257.3) rotate(-45) scale(1 1.04)" stroke="#000" stroke-width="0.3">7.05</text>
<text font-size="9.8" font-weight="bold" text-anchor="end" transform="translate(665.94 257.3) rotate(-45) scale(1 1.04)" stroke="#000" stroke-width="0.3">7.10</text>
<text font-size="9.8" font-weight="bold" text-anchor="end" transform="translate(680.5 257.3) rotate(-45) scale(1 1.04)" stroke="#000" stroke-width="0.3">7.15</text>
<path d="M456 202.8C457.6 201.2 462.57 196.75 465.6 193.2C468.63 189.65 471.7 185.42 474.2 181.5C476.7 177.58 478.65 173.8 480.6 169.7C482.55 165.6 484.3 161.17 485.9 156.9C487.5 152.63 488.77 148.72 490.2 144.1C491.63 139.48 493.33 133.82 494.5 129.2C495.67 124.58 496.5 119.53 497.2 116.4C497.9 113.27 498.45 111.4 498.7 110.4" fill="none" stroke="#000" stroke-width="1.1" stroke-linecap="butt" stroke-linejoin="round"/>
<path d="M456.89 202.51h0M458.38 201.25h0M460.57 198.07h0M462.52 196.46h0M463.27 195.28h0M465.38 193.53h0M467.52 190.8h0M468.46 188.92h0M471.3 186.49h0M471.81 184.39h0M475.2 181.65h0M475 180.62h0M476.09 178.69h0M478.13 174.87h0M477.78 173.6h0M479.49 171.02h0M481.27 168.51h0M481.83 166.89h0M482.87 163.19h0M484.31 161.24h0M484.74 158.99h0M486.97 156.36h0M486.11 154.58h0M487.71 150.66h0M488.36 148.54h0M490.28 148.13h0M490.08 144.5h0M490.58 141.76h0M490.85 140.35h0M491.64 136.44h0M493 133.32h0M494.48 131.81h0M493.61 128.97h0M495.49 125.76h0M495.43 124.34h0M496.03 121.22h0M497.59 119.04h0M496.98 117.23h0M497.63 114.45h0M498.27 111.73h0" stroke="#000" stroke-width="2.2" stroke-linecap="round"/>
<path d="M498.7 110.2h0" stroke="#000" stroke-width="2.8" stroke-linecap="round"/>
<path d="M532 207C533.57 205.95 538.77 202.82 541.4 200.7C544.03 198.58 545.5 196.78 547.8 194.3C550.1 191.82 552.72 189.18 555.2 185.8C557.68 182.42 560.38 178.82 562.7 174C565.02 169.18 567.13 162.07 569.1 156.9C571.07 151.73 573 147.98 574.5 143C576 138.02 577.03 131.97 578.1 127C579.17 122.03 580.43 115.5 580.9 113.2" fill="none" stroke="#000" stroke-width="1.1" stroke-linecap="butt" stroke-linejoin="round"/>
<path d="M532.36 206.94h0M535 205.16h0M535.52 204.65h0M538.72 203.21h0M538.33 201.89h0M541.83 200.6h0M543.2 199.35h0M543.56 198.03h0M545.94 197.76h0M545.54 195.14h0M547.73 194.44h0M549.74 192.74h0M550.85 190.79h0M551.97 189.59h0M552.15 187.24h0M554.44 185.76h0M555.27 184.45h0M555.89 183.58h0M558.56 180.93h0M558.31 178.66h0M559.77 178.19h0M561.43 176.31h0M562.06 175.71h0M563 173.69h0M563.67 171.44h0M564.23 169.93h0M564.8 168.13h0M566.22 164.9h0M566.89 163.58h0M567.49 162.25h0M568.64 160.52h0M569.75 157.48h0M569.09 156.23h0M569.81 155.15h0M570.58 152.8h0M572.31 151.73h0M572.54 149.98h0M572.49 147.57h0M574.37 145.33h0M574.76 142.41h0M574.87 140.63h0M574.82 139.59h0M575.69 138.16h0M575.58 134.85h0M576.72 133.98h0M578.31 130.97h0M578.01 129.14h0M577.01 127.11h0M577.68 126.28h0M578.48 124.81h0M578.85 122.86h0M580.04 119.73h0M578.79 116.91h0M580.95 115.26h0M580.61 113.23h0" stroke="#000" stroke-width="2.3" stroke-linecap="round"/>
<path d="M613.2 209.2C614.57 207.97 618.97 203.57 621.4 201.8C623.83 200.03 625.67 200.2 627.8 198.6C629.93 197 632.07 194.88 634.2 192.2C636.33 189.52 638.65 185.72 640.6 182.5C642.55 179.28 644.13 176.45 645.9 172.9C647.67 169.35 649.42 165.82 651.2 161.2C652.98 156.58 654.98 150.9 656.6 145.2C658.22 139.5 659.65 133.23 660.9 127C662.15 120.77 663.22 112.42 664.1 107.8C664.98 103.18 665.85 100.72 666.2 99.3" fill="none" stroke="#000" stroke-width="1.1" stroke-linecap="butt" stroke-linejoin="round"/>
<path d="M613.75 209.24h0M614.9 208.07h0M617.51 206.67h0M617.28 204.06h0M619.3 203.88h0M618.98 202.8h0M621.13 200.38h0M623 200.48h0M624.81 200.17h0M625.88 200.26h0M626.35 197.2h0M629.33 198.68h0M629.16 196.68h0M631.25 196.48h0M633.52 194.75h0M633.68 194.09h0M633.11 190.47h0M634.99 190.31h0M635.82 189.52h0M637.29 186.54h0M638.02 185.07h0M639.91 185.31h0M638.98 183.12h0M640.64 182.13h0M642.32 180.49h0M642.1 179.07h0M643.92 176.89h0M643.27 175.68h0M645.6 173.98h0M646.47 173.46h0M646.18 171.21h0M648 170.2h0M647.82 168.89h0M648.43 167.65h0M648.93 165.16h0M649.63 163.16h0M650.54 162.1h0M651.48 160.6h0M651.62 158.86h0M652.12 157.8h0M654.21 156.27h0M653.67 154.21h0M652.48 152.24h0M653.83 150.61h0M655.23 149.16h0M654.88 147.69h0M656.3 145.52h0M658.05 144.64h0M655.8 143.14h0M658.83 141.6h0M657.26 140.23h0M657.86 138.67h0M658.66 136.92h0M658.27 135.38h0M658.48 132.27h0M659.47 132.06h0M659.03 130.24h0M661.25 127.75h0M660.98 125.84h0M658.98 124.75h0M661.79 122.76h0M660.89 122.05h0M662.4 120.29h0M661.77 118.72h0M663.57 117.61h0M662.79 114.86h0M663.19 113.59h0M663.23 111.39h0M663.85 109.17h0M664.44 107.89h0M664.22 107.04h0M664.7 105.81h0M664.47 103.86h0M666.7 102.17h0M665.19 100.34h0" stroke="#000" stroke-width="2.3" stroke-linecap="round"/>
<text font-size="23" font-weight="normal" text-anchor="start" transform="translate(367.5 293.8) scale(1 1.04)" stroke="#000" stroke-width="0.4">D</text>
<text font-size="11.4" font-weight="bold" text-anchor="middle" transform="translate(403.5 310.7) rotate(-90) scale(1 0.9)" stroke="#000" stroke-width="0.3">Residuals</text>
<text font-size="11.7" font-weight="bold" text-anchor="middle" transform="translate(405.6 434.1) rotate(-90) scale(1 0.9)" stroke="#000" stroke-width="0.3">Absorbance (250nm)</text>
<line x1="439.7" y1="277.4" x2="439.7" y2="345.2" stroke="#000" stroke-width="1.6"/>
<line x1="436.5" y1="290.7" x2="439.7" y2="290.7" stroke="#000" stroke-width="1.5"/>
<line x1="437.7" y1="300.2" x2="439.7" y2="300.2" stroke="#000" stroke-width="1.5"/>
<line x1="436.5" y1="309.8" x2="439.7" y2="309.8" stroke="#000" stroke-width="1.5"/>
<line x1="437.7" y1="319.3" x2="439.7" y2="319.3" stroke="#000" stroke-width="1.5"/>
<line x1="436.5" y1="328.7" x2="439.7" y2="328.7" stroke="#000" stroke-width="1.5"/>
<line x1="437.7" y1="338.2" x2="439.7" y2="338.2" stroke="#000" stroke-width="1.5"/>
<text font-size="9" font-weight="bold" text-anchor="end" transform="translate(435.3 293.7) scale(1 0.97)" stroke="#000" stroke-width="0.3">0.01</text>
<text font-size="9" font-weight="bold" text-anchor="end" transform="translate(435.3 312.8) scale(1 0.97)" stroke="#000" stroke-width="0.3">0.00</text>
<text font-size="9" font-weight="bold" text-anchor="end" transform="translate(435.3 331.7) scale(1 0.97)" stroke="#000" stroke-width="0.3">-0.01</text>
<line x1="439.7" y1="309.5" x2="514.3" y2="309.5" stroke="#000" stroke-width="1.25"/>
<line x1="514.3" y1="307.1" x2="514.3" y2="312.1" stroke="#000" stroke-width="1.5"/>
<line x1="523.6" y1="309.5" x2="596.6" y2="309.5" stroke="#000" stroke-width="1.25"/>
<line x1="523.6" y1="307.1" x2="523.6" y2="312.1" stroke="#000" stroke-width="1.5"/>
<line x1="596.6" y1="307.1" x2="596.6" y2="312.1" stroke="#000" stroke-width="1.5"/>
<line x1="605.3" y1="309.5" x2="677.8" y2="309.5" stroke="#000" stroke-width="1.25"/>
<line x1="605.3" y1="307.1" x2="605.3" y2="312.1" stroke="#000" stroke-width="1.5"/>
<line x1="677.8" y1="307.1" x2="677.8" y2="312.1" stroke="#000" stroke-width="1.5"/>
<text font-size="9.8" font-weight="bold" text-anchor="end" transform="translate(456.52 333.1) rotate(-45) scale(1 1.04)" stroke="#000" stroke-width="0.3">5.95</text>
<text font-size="9.8" font-weight="bold" text-anchor="end" transform="translate(471.44 333.1) rotate(-45) scale(1 1.04)" stroke="#000" stroke-width="0.3">6.00</text>
<text font-size="9.8" font-weight="bold" text-anchor="end" transform="translate(486.36 333.1) rotate(-45) scale(1 1.04)" stroke="#000" stroke-width="0.3">6.05</text>
<text font-size="9.8" font-weight="bold" text-anchor="end" transform="translate(501.28 333.1) rotate(-45) scale(1 1.04)" stroke="#000" stroke-width="0.3">6.10</text>
<text font-size="9.8" font-weight="bold" text-anchor="end" transform="translate(516.2 333.1) rotate(-45) scale(1 1.04)" stroke="#000" stroke-width="0.3">6.15</text>
<text font-size="9.8" font-weight="bold" text-anchor="end" transform="translate(540.1 333.1) rotate(-45) scale(1 1.04)" stroke="#000" stroke-width="0.3">6.45</text>
<text font-size="9.8" font-weight="bold" text-anchor="end" transform="translate(554.7 333.1) rotate(-45) scale(1 1.04)" stroke="#000" stroke-width="0.3">6.50</text>
<text font-size="9.8" font-weight="bold" text-anchor="end" transform="translate(569.3 333.1) rotate(-45) scale(1 1.04)" stroke="#000" stroke-width="0.3">6.55</text>
<text font-size="9.8" font-weight="bold" text-anchor="end" transform="translate(583.9 333.1) rotate(-45) scale(1 1.04)" stroke="#000" stroke-width="0.3">6.60</text>
<text font-size="9.8" font-weight="bold" text-anchor="end" transform="translate(598.5 333.1) rotate(-45) scale(1 1.04)" stroke="#000" stroke-width="0.3">6.65</text>
<text font-size="9.8" font-weight="bold" text-anchor="end" transform="translate(621.7 333.1) rotate(-45) scale(1 1.04)" stroke="#000" stroke-width="0.3">6.95</text>
<text font-size="9.8" font-weight="bold" text-anchor="end" transform="translate(636.2 333.1) rotate(-45) scale(1 1.04)" stroke="#000" stroke-width="0.3">7.00</text>
<text font-size="9.8" font-weight="bold" text-anchor="end" transform="translate(650.7 333.1) rotate(-45) scale(1 1.04)" stroke="#000" stroke-width="0.3">7.05</text>
<text font-size="9.8" font-weight="bold" text-anchor="end" transform="translate(665.2 333.1) rotate(-45) scale(1 1.04)" stroke="#000" stroke-width="0.3">7.10</text>
<text font-size="9.8" font-weight="bold" text-anchor="end" transform="translate(679.7 333.1) rotate(-45) scale(1 1.04)" stroke="#000" stroke-width="0.3">7.15</text>
<path d="M448.18 301.61h0M448.76 303.36h0M448.41 305.11h0M450.51 306.86h0M447.59 308.61h0M451.09 313.28h0M451.68 317.37h0M451.45 319.12h0M454.01 316.79h0M454.01 323.8h0M455.77 324.38h0M456.35 309.2h0M457.52 308.03h0M458.1 310.36h0M459.27 310.95h0M459.85 315.62h0M461.02 315.04h0M461.02 322.04h0M462.77 315.04h0M463.94 307.45h0M464.76 303.94h0M466.28 313.28h0M466.86 317.37h0M468.03 312.12h0M468.61 314.45h0M469.78 299.85h0M470.6 306.28h0M471.53 302.19h0M472.7 301.02h0M473.28 289.93h0M473.87 294.01h0M474.8 295.77h0M475.62 299.27h0M476.2 301.61h0M477.96 308.03h0M479.12 310.95h0M479.71 312.7h0M480.29 302.77h0M480.64 306.28h0M481.46 308.61h0M482.63 311.53h0M483.8 309.78h0M484.38 308.03h0M484.96 310.95h0M486.13 322.04h0M486.72 324.38h0M487.3 305.11h0M487.88 320.29h0M489.05 312.7h0M490.22 309.2h0M490.8 318.54h0M491.39 297.52h0M491.97 315.04h0M493.14 317.37h0M493.72 326.13h0M494.31 323.8h0M494.89 316.79h0M496.06 301.61h0M496.64 288.76h0M497.23 298.1h0M497.81 315.62h0M498.98 313.87h0M499.56 298.69h0M500.15 310.95h0" stroke="#000" stroke-width="2.3" stroke-linecap="round"/>
<path d="M529.93 299.85h0M531.09 303.36h0M532.26 301.61h0M531.68 308.03h0M533.43 305.11h0M534.01 310.95h0M535.18 312.7h0M535.77 315.04h0M536.35 316.2h0M536.93 296.35h0M537.52 306.86h0M538.69 310.95h0M539.27 312.12h0M539.85 304.53h0M541.02 305.11h0M541.61 309.2h0M542.19 313.87h0M543.36 315.04h0M543.94 323.21h0M544.53 310.36h0M545.11 311.53h0M546.28 308.03h0M546.86 306.28h0M548.03 309.2h0M548.61 306.86h0M549.2 310.95h0M549.78 312.7h0M550.95 315.04h0M550.95 309.2h0M552.7 301.02h0M553.87 315.62h0M554.45 311.53h0M555.04 320.88h0M556.79 310.36h0M557.37 308.03h0M557.96 303.36h0M558.54 306.86h0M559.71 308.03h0M562.04 313.87h0M563.21 312.7h0M564.38 306.28h0M565.55 310.95h0M566.13 315.04h0M566.72 312.7h0M567.88 305.69h0M569.05 301.02h0M569.64 313.28h0M570.22 303.36h0M571.39 308.03h0M571.97 310.36h0M572.55 311.53h0M573.14 306.86h0M574.31 320.88h0M574.89 323.8h0M576.06 312.7h0M577.23 310.36h0M578.39 305.11h0M579.56 308.03h0M579.56 295.18h0M580.73 296.93h0M581.31 311.53h0M582.48 313.87h0M583.65 316.2h0M584.23 317.37h0M584.82 295.77h0M585.99 305.69h0" stroke="#000" stroke-width="2.3" stroke-linecap="round"/>
<path d="M612.26 317.96h0M612.85 319.71h0M613.43 321.46h0M614.6 311.53h0M615.18 312.7h0M616.35 298.1h0M617.52 315.04h0M618.1 305.11h0M618.69 309.78h0M619.85 308.03h0M621.02 303.36h0M621.61 312.12h0M622.77 296.93h0M623.36 304.53h0M625.11 309.2h0M626.28 310.95h0M626.86 324.96h0M627.45 308.03h0M628.03 301.61h0M628.61 308.61h0M629.78 317.37h0M630.36 309.78h0M630.95 295.18h0M631.53 306.28h0M632.7 305.69h0M633.87 308.03h0M634.45 306.28h0M635.04 313.28h0M636.2 305.11h0M637.37 313.87h0M637.96 316.79h0M639.12 308.61h0M640.29 302.19h0M641.46 299.27h0M642.04 302.77h0M643.21 306.86h0M643.8 309.2h0M644.96 316.2h0M645.55 305.11h0M646.13 311.53h0M647.88 293.43h0M649.05 296.93h0M649.64 308.03h0M650.22 298.69h0M651.39 304.53h0M651.97 309.2h0M652.55 301.61h0M653.14 296.35h0M654.31 309.2h0M654.89 308.03h0M655.47 316.79h0M656.06 318.54h0M656.64 320.88h0M657.81 323.21h0M658.98 327.3h0M660.15 310.95h0M660.73 319.12h0M661.31 321.46h0M662.48 323.8h0M663.07 315.04h0M663.65 311.53h0M664.23 291.09h0M664.23 296.35h0M665.4 298.69h0M665.99 301.02h0M666.57 304.53h0M667.74 307.45h0M668.91 308.03h0M669.49 305.11h0M670.07 313.87h0M670.66 318.54h0M671.24 302.19h0" stroke="#000" stroke-width="2.3" stroke-linecap="round"/>
<line x1="439.4" y1="355.1" x2="439.4" y2="516.4" stroke="#000" stroke-width="1.45"/>
<line x1="435.4" y1="515.7" x2="439.4" y2="515.7" stroke="#000" stroke-width="1.5"/>
<line x1="437.6" y1="495.69" x2="439.4" y2="495.69" stroke="#000" stroke-width="1.5"/>
<line x1="435.4" y1="475.68" x2="439.4" y2="475.68" stroke="#000" stroke-width="1.5"/>
<line x1="437.6" y1="455.66" x2="439.4" y2="455.66" stroke="#000" stroke-width="1.5"/>
<line x1="435.4" y1="435.65" x2="439.4" y2="435.65" stroke="#000" stroke-width="1.5"/>
<line x1="437.6" y1="415.64" x2="439.4" y2="415.64" stroke="#000" stroke-width="1.5"/>
<line x1="435.4" y1="395.62" x2="439.4" y2="395.62" stroke="#000" stroke-width="1.5"/>
<line x1="437.6" y1="375.61" x2="439.4" y2="375.61" stroke="#000" stroke-width="1.5"/>
<line x1="435.4" y1="355.6" x2="439.4" y2="355.6" stroke="#000" stroke-width="1.5"/>
<text font-size="9.1" font-weight="bold" text-anchor="end" transform="translate(435.6 518.71) scale(1 0.96)" stroke="#000" stroke-width="0.3">0.000</text>
<text font-size="9.1" font-weight="bold" text-anchor="end" transform="translate(435.6 478.68) scale(1 0.96)" stroke="#000" stroke-width="0.3">0.100</text>
<text font-size="9.1" font-weight="bold" text-anchor="end" transform="translate(435.6 438.66) scale(1 0.96)" stroke="#000" stroke-width="0.3">0.200</text>
<text font-size="9.1" font-weight="bold" text-anchor="end" transform="translate(435.6 398.63) scale(1 0.96)" stroke="#000" stroke-width="0.3">0.300</text>
<text font-size="9.1" font-weight="bold" text-anchor="end" transform="translate(435.6 358.61) scale(1 0.96)" stroke="#000" stroke-width="0.3">0.400</text>
<line x1="438.7" y1="515.7" x2="514.4" y2="515.7" stroke="#000" stroke-width="1.45"/>
<line x1="514.4" y1="513.5" x2="514.4" y2="518.7" stroke="#000" stroke-width="1.6"/>
<line x1="446.9" y1="515.7" x2="446.9" y2="517.9" stroke="#000" stroke-width="1.4"/>
<line x1="454.4" y1="515.7" x2="454.4" y2="519.3" stroke="#000" stroke-width="1.4"/>
<line x1="461.9" y1="515.7" x2="461.9" y2="517.9" stroke="#000" stroke-width="1.4"/>
<line x1="469.4" y1="515.7" x2="469.4" y2="519.3" stroke="#000" stroke-width="1.4"/>
<line x1="476.9" y1="515.7" x2="476.9" y2="517.9" stroke="#000" stroke-width="1.4"/>
<line x1="484.4" y1="515.7" x2="484.4" y2="519.3" stroke="#000" stroke-width="1.4"/>
<line x1="491.9" y1="515.7" x2="491.9" y2="517.9" stroke="#000" stroke-width="1.4"/>
<line x1="499.4" y1="515.7" x2="499.4" y2="519.3" stroke="#000" stroke-width="1.4"/>
<line x1="506.9" y1="515.7" x2="506.9" y2="517.9" stroke="#000" stroke-width="1.4"/>
<text font-size="9.8" font-weight="bold" text-anchor="end" transform="translate(456.3 528.1) rotate(-45) scale(1 1.04)" stroke="#000" stroke-width="0.3">5.95</text>
<text font-size="9.8" font-weight="bold" text-anchor="end" transform="translate(471.3 528.1) rotate(-45) scale(1 1.04)" stroke="#000" stroke-width="0.3">6.00</text>
<text font-size="9.8" font-weight="bold" text-anchor="end" transform="translate(486.3 528.1) rotate(-45) scale(1 1.04)" stroke="#000" stroke-width="0.3">6.05</text>
<text font-size="9.8" font-weight="bold" text-anchor="end" transform="translate(501.3 528.1) rotate(-45) scale(1 1.04)" stroke="#000" stroke-width="0.3">6.10</text>
<text font-size="9.8" font-weight="bold" text-anchor="end" transform="translate(516.3 528.1) rotate(-45) scale(1 1.04)" stroke="#000" stroke-width="0.3">6.15</text>
<line x1="523.8" y1="515.7" x2="597.2" y2="515.7" stroke="#000" stroke-width="1.45"/>
<line x1="523.8" y1="513.5" x2="523.8" y2="518.7" stroke="#000" stroke-width="1.6"/>
<line x1="597.2" y1="513.5" x2="597.2" y2="518.7" stroke="#000" stroke-width="1.6"/>
<line x1="531.14" y1="515.7" x2="531.14" y2="517.9" stroke="#000" stroke-width="1.4"/>
<line x1="538.48" y1="515.7" x2="538.48" y2="519.3" stroke="#000" stroke-width="1.4"/>
<line x1="545.82" y1="515.7" x2="545.82" y2="517.9" stroke="#000" stroke-width="1.4"/>
<line x1="553.16" y1="515.7" x2="553.16" y2="519.3" stroke="#000" stroke-width="1.4"/>
<line x1="560.5" y1="515.7" x2="560.5" y2="517.9" stroke="#000" stroke-width="1.4"/>
<line x1="567.84" y1="515.7" x2="567.84" y2="519.3" stroke="#000" stroke-width="1.4"/>
<line x1="575.18" y1="515.7" x2="575.18" y2="517.9" stroke="#000" stroke-width="1.4"/>
<line x1="582.52" y1="515.7" x2="582.52" y2="519.3" stroke="#000" stroke-width="1.4"/>
<line x1="589.86" y1="515.7" x2="589.86" y2="517.9" stroke="#000" stroke-width="1.4"/>
<text font-size="9.8" font-weight="bold" text-anchor="end" transform="translate(540.38 528.1) rotate(-45) scale(1 1.04)" stroke="#000" stroke-width="0.3">6.45</text>
<text font-size="9.8" font-weight="bold" text-anchor="end" transform="translate(555.06 528.1) rotate(-45) scale(1 1.04)" stroke="#000" stroke-width="0.3">6.50</text>
<text font-size="9.8" font-weight="bold" text-anchor="end" transform="translate(569.74 528.1) rotate(-45) scale(1 1.04)" stroke="#000" stroke-width="0.3">6.55</text>
<text font-size="9.8" font-weight="bold" text-anchor="end" transform="translate(584.42 528.1) rotate(-45) scale(1 1.04)" stroke="#000" stroke-width="0.3">6.60</text>
<text font-size="9.8" font-weight="bold" text-anchor="end" transform="translate(599.1 528.1) rotate(-45) scale(1 1.04)" stroke="#000" stroke-width="0.3">6.65</text>
<line x1="605.3" y1="515.7" x2="679.6" y2="515.7" stroke="#000" stroke-width="1.45"/>
<line x1="605.3" y1="513.5" x2="605.3" y2="518.7" stroke="#000" stroke-width="1.6"/>
<line x1="679.6" y1="513.5" x2="679.6" y2="518.7" stroke="#000" stroke-width="1.6"/>
<line x1="612.73" y1="515.7" x2="612.73" y2="517.9" stroke="#000" stroke-width="1.4"/>
<line x1="620.16" y1="515.7" x2="620.16" y2="519.3" stroke="#000" stroke-width="1.4"/>
<line x1="627.59" y1="515.7" x2="627.59" y2="517.9" stroke="#000" stroke-width="1.4"/>
<line x1="635.02" y1="515.7" x2="635.02" y2="519.3" stroke="#000" stroke-width="1.4"/>
<line x1="642.45" y1="515.7" x2="642.45" y2="517.9" stroke="#000" stroke-width="1.4"/>
<line x1="649.88" y1="515.7" x2="649.88" y2="519.3" stroke="#000" stroke-width="1.4"/>
<line x1="657.31" y1="515.7" x2="657.31" y2="517.9" stroke="#000" stroke-width="1.4"/>
<line x1="664.74" y1="515.7" x2="664.74" y2="519.3" stroke="#000" stroke-width="1.4"/>
<line x1="672.17" y1="515.7" x2="672.17" y2="517.9" stroke="#000" stroke-width="1.4"/>
<text font-size="9.8" font-weight="bold" text-anchor="end" transform="translate(622.06 528.1) rotate(-45) scale(1 1.04)" stroke="#000" stroke-width="0.3">6.95</text>
<text font-size="9.8" font-weight="bold" text-anchor="end" transform="translate(636.92 528.1) rotate(-45) scale(1 1.04)" stroke="#000" stroke-width="0.3">7.00</text>
<text font-size="9.8" font-weight="bold" text-anchor="end" transform="translate(651.78 528.1) rotate(-45) scale(1 1.04)" stroke="#000" stroke-width="0.3">7.05</text>
<text font-size="9.8" font-weight="bold" text-anchor="end" transform="translate(666.64 528.1) rotate(-45) scale(1 1.04)" stroke="#000" stroke-width="0.3">7.10</text>
<text font-size="9.8" font-weight="bold" text-anchor="end" transform="translate(681.5 528.1) rotate(-45) scale(1 1.04)" stroke="#000" stroke-width="0.3">7.15</text>
<path d="M447.8 490.5C448.4 490.38 450.08 490.03 451.4 489.8C452.72 489.57 454.52 489.8 455.7 489.1C456.88 488.4 457.43 486.78 458.5 485.6C459.57 484.42 460.8 483.55 462.1 482C463.4 480.45 465 478.32 466.3 476.3C467.6 474.28 468.58 472.27 469.9 469.9C471.22 467.53 472.67 464.58 474.2 462.1C475.73 459.62 477.68 457.27 479.1 455C480.52 452.73 481.5 450.77 482.7 448.5C483.9 446.23 485.05 445.05 486.3 441.4C487.55 437.75 488.83 431.57 490.2 426.6C491.57 421.63 493.33 416.4 494.5 411.6C495.67 406.8 496.5 401 497.2 397.8C497.9 394.6 498.45 393.3 498.7 392.4" fill="none" stroke="#000" stroke-width="1.4" stroke-linecap="butt" stroke-linejoin="round"/>
<path d="M448.14 491.13h0M450.14 489.66h0M450.93 490.77h0M452.71 489.91h0M453.71 490.22h0M455.67 488.62h0M456.28 488.59h0M457.64 486.39h0M458 485.58h0M460.25 484.76h0M460.5 484.32h0M461.51 483.34h0M462.09 482.15h0M463.1 480.92h0M463.64 479.33h0M465.53 478.96h0M465.99 477.13h0M466.64 476.68h0M467.97 475.32h0M468.12 473.25h0M467.29 471.72h0M469.34 471.35h0M469.79 468.78h0M471.31 467.94h0M470.65 466.65h0M472.52 465.07h0M473.21 464.85h0M472.99 462.6h0M474.16 461.96h0M474.98 461.26h0M475.6 460.03h0M476.13 458.49h0M477.81 458.03h0M477.73 455.19h0M479.09 455.06h0M480.34 453.8h0M480 452.46h0M481.79 450.47h0M481.98 448.91h0M482.91 447.79h0M483.24 447.4h0M483.97 446.04h0M484.31 444.44h0M485.33 443.29h0M485.65 442.64h0M486.71 440.87h0M487.18 440.04h0M487.2 438.27h0M486.68 436.11h0M487.85 434.82h0M488.83 433.49h0M488.24 432.43h0M489.8 430.36h0M490.24 429.5h0M490.26 428.9h0M489.17 426.23h0M490.78 425.03h0M490.68 423.81h0M491.9 422.69h0M490.99 420.44h0M492.88 419.84h0M492.09 417.95h0M493.15 417.45h0M493.36 415.81h0M493.97 414.87h0M493.57 412.46h0M494.28 411.2h0M494.05 410.6h0M495.16 408.17h0M494.68 406.99h0M496.57 405.71h0M496.24 404.77h0M495.99 403.51h0M497.34 402.11h0M497.5 399.89h0M496.89 398.82h0M496.94 397.19h0M496.88 395.46h0M498.46 394.37h0M498.56 393.48h0" stroke="#000" stroke-width="2.3" stroke-linecap="round"/>
<path d="M500.4 385h0" stroke="#000" stroke-width="2.4" stroke-linecap="round"/>
<path d="M530 488.3C530.83 488.08 532.93 487.83 535 487C537.07 486.17 539.92 485.17 542.4 483.3C544.88 481.43 547.4 478.5 549.9 475.8C552.4 473.1 555.12 470.62 557.4 467.1C559.68 463.58 561.53 459.68 563.6 454.7C565.67 449.72 567.93 442.6 569.8 437.2C571.67 431.8 573.13 428.52 574.8 422.3C576.47 416.08 578.35 406.55 579.8 399.9C581.25 393.25 582.58 386.77 583.5 382.4C584.42 378.03 584.75 376.18 585.3 373.7C585.85 371.22 586.55 368.53 586.8 367.5" fill="none" stroke="#000" stroke-width="1.3" stroke-linecap="butt" stroke-linejoin="round"/>
<path d="M531.28 487.72h0M532 488.47h0M533.69 487.24h0M536.9 486.96h0M538.1 485.26h0M539.78 485.33h0M541.54 484.69h0M542.73 484.02h0M544.8 481.04h0M545.33 480.31h0M547.57 478.96h0M547.66 477.87h0M549.24 476.96h0M550.63 474.76h0M550.39 473.17h0M552.46 472.52h0M553.8 469.52h0M555.69 468.98h0M556.77 468.61h0M557.06 466.91h0M557.64 465.27h0M559.29 463.39h0M559.72 461.85h0M561.74 459.32h0M561.52 458.87h0M561.51 456.54h0M563.61 453.87h0M563 452.93h0M563.28 450.89h0M566.7 449.7h0M565.63 447.79h0M566.61 446.78h0M567.3 444.94h0M567.86 441.51h0M568.36 441.07h0M569.62 439.66h0M570.78 437.73h0M570.3 434.72h0M572.14 433.73h0M570.99 431.54h0M573.13 429.95h0M573.01 428.48h0M573.26 426h0M573.37 425.45h0M575.23 422.34h0M575.42 421.59h0M575.27 419.73h0M574.29 417.68h0M576.11 415.42h0M577.28 414.27h0M577.13 412.76h0M577.96 409.62h0M578.1 408.53h0M579.64 406.01h0M578.9 404.98h0M579.21 403.82h0M579.78 401.56h0M580.03 399.86h0M581 397.57h0M580.07 395.77h0M580.52 393.95h0M581.31 392.36h0M581.43 391.01h0M583.47 389.41h0M581.87 386.45h0M582.11 385.14h0M583.3 383.38h0M584.28 381.35h0M584.95 378.62h0M583.44 378.18h0M584.43 376.46h0M584.15 373.66h0M586.28 372h0M586.33 369.44h0M587.6 368.03h0" stroke="#000" stroke-width="2.3" stroke-linecap="round"/>
<path d="M612.5 494.5C613.73 493.67 617.42 491.15 619.9 489.5C622.38 487.85 624.9 486.47 627.4 484.6C629.9 482.73 632.4 480.8 634.9 478.3C637.4 475.8 640.12 473.12 642.4 469.6C644.68 466.08 646.73 461.35 648.6 457.2C650.47 453.05 651.95 449.27 653.6 444.7C655.25 440.13 656.85 435.62 658.5 429.8C660.15 423.98 662.03 416.03 663.5 409.8C664.97 403.57 666.18 398.03 667.3 392.4C668.42 386.77 669.55 379.93 670.2 376C670.85 372.07 671.03 370 671.2 368.8" fill="none" stroke="#000" stroke-width="1.2" stroke-linecap="butt" stroke-linejoin="round"/>
<path d="M612 493.05h0M614.25 493.9h0M616.46 492.67h0M617.64 490.81h0M618.28 489.39h0M619.66 489.44h0M621.51 488.37h0M622.63 488.77h0M623.32 486.68h0M624.69 486.36h0M627.35 485.82h0M627.78 485.27h0M629.41 483.39h0M630.27 482.4h0M631.53 482.35h0M631.41 478.99h0M634.45 479.25h0M635.19 477.19h0M636.02 477.13h0M637.63 474.88h0M637.38 474.54h0M639.11 472.9h0M639.67 471.77h0M641.98 470.77h0M641.85 469.89h0M642.25 467.82h0M644.15 467.23h0M644.79 464.68h0M644.4 463.75h0M645.97 461.37h0M647.67 461.75h0M647.34 459.81h0M648.03 457.04h0M649.06 456.57h0M649.86 455.29h0M650.52 453.4h0M650.49 452.13h0M651.45 451.1h0M651.54 449.68h0M651.11 447.77h0M654.15 445.83h0M655.3 444.71h0M654.04 443.29h0M655.5 442.32h0M654.48 440.56h0M655.27 438.05h0M656.51 437.34h0M657.03 436.09h0M657.09 434.11h0M659.11 432.06h0M659.22 431.67h0M659.12 429.65h0M657.85 427.56h0M658.58 426.72h0M660.07 423.99h0M659.11 423.3h0M661.48 422.51h0M661.37 420.19h0M660.1 418.84h0M662.97 417.91h0M662.62 415.8h0M663.11 413.45h0M662.45 412.42h0M663.09 409.79h0M663.38 408.62h0M663.94 407.75h0M664.5 405.51h0M663.75 403.44h0M663.65 403.24h0M663.6 401.24h0M666.14 398.97h0M666.02 398.23h0M667.13 396.65h0M667.4 394.35h0M668.3 393.22h0M667.64 391.29h0M666.71 390.3h0M667.14 388.76h0M669.05 387.86h0M668.45 385.93h0M668.17 384.46h0M668.38 382.92h0M669.3 379.91h0M670.29 378.61h0M669.77 378.19h0M669.01 376.4h0M670.43 374.45h0M669.75 373.08h0M671.39 370.98h0M671.73 369.28h0" stroke="#000" stroke-width="2.3" stroke-linecap="round"/>
<path d="M672 361.3h0" stroke="#000" stroke-width="2.4" stroke-linecap="round"/>
<text font-size="11.5" font-weight="bold" text-anchor="middle" transform="translate(559.4 556.1) scale(1 1.04)" stroke="#000" stroke-width="0.3">Radius (cm)</text>
<text font-size="15.8" font-weight="bold" text-anchor="middle" transform="translate(192.65 455.6) scale(1 1.04)" stroke="#000" stroke-width="0.3">Sedimentation Coefficient [S]</text></svg>
</body></html>
